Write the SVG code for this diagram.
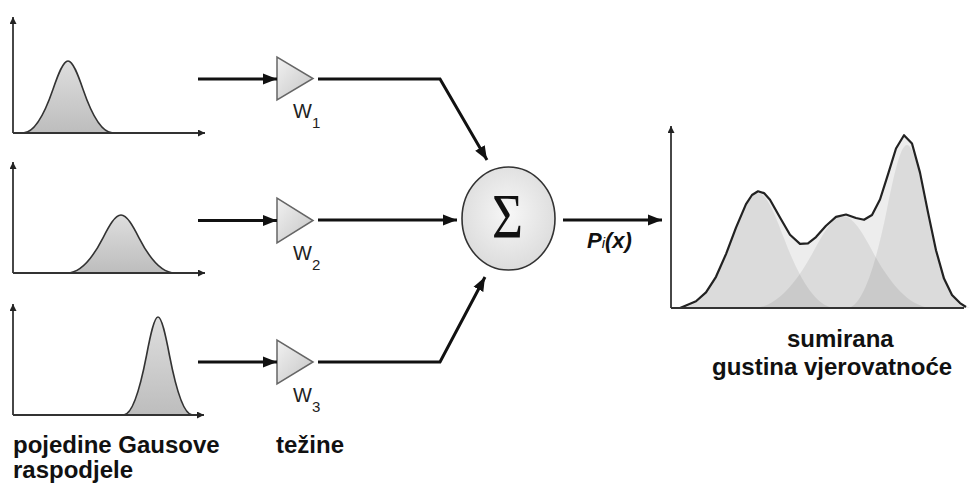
<svg xmlns="http://www.w3.org/2000/svg" width="971" height="487" viewBox="0 0 971 487">
<style>
.axis{stroke:#333;stroke-width:1.8;fill:none}
.gauss{fill:url(#gfill);stroke:#333;stroke-width:1.6}
.conn{stroke:#111;stroke-width:3;fill:none}
.tri{fill:url(#tfill);stroke:#666;stroke-width:1.5}
.lbl{font-family:"Liberation Sans",Arial,sans-serif;font-weight:bold;font-size:24px;fill:#111}
.w{font-family:"Liberation Sans",Arial,sans-serif;font-size:20px;fill:#222}
.comp{fill:#000;fill-opacity:0.075;stroke:none}
</style>
<defs>
<linearGradient id="gfill" x1="0" y1="0" x2="0" y2="1">
<stop offset="0" stop-color="#dedede"/><stop offset="1" stop-color="#bdbdbd"/>
</linearGradient>
<linearGradient id="tfill" x1="0" y1="0" x2="1" y2="1">
<stop offset="0" stop-color="#f2f2f2"/><stop offset="1" stop-color="#c4c4c4"/>
</linearGradient>
<radialGradient id="cfill" cx="0.5" cy="0.45" r="0.55">
<stop offset="0" stop-color="#f7f7f7"/><stop offset="1" stop-color="#dcdcdc"/>
</radialGradient>
<marker id="arr" markerUnits="userSpaceOnUse" markerWidth="15" markerHeight="12" refX="14" refY="6" orient="auto">
<path d="M0,0.5 L14,6 L0,11.5 z" fill="#111"/>
</marker>
<marker id="ax" markerUnits="userSpaceOnUse" markerWidth="8" markerHeight="7" refX="7" refY="3.5" orient="auto">
<path d="M0,0 L7,3.5 L0,7 z" fill="#222"/>
</marker>
</defs>
<rect width="971" height="487" fill="#fff"/>

<g id="panel1">
<path class="gauss" d="M23,133 C33,133 43,118.5 53,89.3 C58,74.8 63,61 68,61 C73,61 78,74.8 83,89.3 C93,118.5 103,133 113,133 Z"/>
<path class="axis" d="M13,133 V17" marker-end="url(#ax)"/>
<path class="axis" d="M13,133 H205" marker-end="url(#ax)"/>
</g>
<g id="panel2">
<path class="gauss" d="M67,273 C79,273 91,261.3 103,237.8 C109,226.1 115,215 121,215 C127,215 133,226.1 139,237.8 C151,261.3 163,273 175,273 Z"/>
<path class="axis" d="M13,273 V162" marker-end="url(#ax)"/>
<path class="axis" d="M13,273 H205" marker-end="url(#ax)"/>
</g>
<g id="panel3">
<path class="gauss" d="M123.5,415 C131.2,415 138.8,395.2 146.5,355.5 C150.3,335.7 154.2,317 158,317 C161.8,317 165.7,335.7 169.5,355.5 C177.2,395.2 184.8,415 192.5,415 Z"/>
<path class="axis" d="M13,415 V304" marker-end="url(#ax)"/>
<path class="axis" d="M13,415 H204" marker-end="url(#ax)"/>
</g>

<g id="weight1">
<polygon class="tri" points="277,57 277,100 313,78.5"/>
<text class="w" x="293" y="118">W<tspan font-size="15" dy="10">1</tspan></text>
</g>
<g id="weight2">
<polygon class="tri" points="277,198 277,243 313,220.5"/>
<text class="w" x="293" y="260">W<tspan font-size="15" dy="10">2</tspan></text>
</g>
<g id="weight3">
<polygon class="tri" points="277,340 277,384 313,362"/>
<text class="w" x="293" y="402">W<tspan font-size="15" dy="10">3</tspan></text>
</g>

<g id="sum">
<ellipse cx="508.5" cy="218.5" rx="46.5" ry="51.5" fill="url(#cfill)" stroke="#333" stroke-width="1.6"/>
<text x="492" y="238" font-family="'Liberation Serif','Times New Roman',serif" font-size="64" fill="#111" textLength="31" lengthAdjust="spacingAndGlyphs">Σ</text>
</g>

<g id="connectors">
<path class="conn" d="M198,79 H277" marker-end="url(#arr)"/>
<path class="conn" d="M198,220.5 H277" marker-end="url(#arr)"/>
<path class="conn" d="M198,362 H277" marker-end="url(#arr)"/>
<path class="conn" d="M318,79 H440 L487,160" marker-end="url(#arr)"/>
<path class="conn" d="M318,220 H457" marker-end="url(#arr)"/>
<path class="conn" d="M318,362 H440 L485,277" marker-end="url(#arr)"/>
<path class="conn" d="M563,220 H662" marker-end="url(#arr)"/>
</g>
<text id="pix" x="587" y="248" font-family="'Liberation Sans',Arial,sans-serif" font-weight="bold" font-style="italic" font-size="22" fill="#111">P<tspan font-size="15" font-weight="normal">i</tspan>(x)</text>

<g id="output">
<path d="M676,308 L686,305.5 696,301.3 706,292.4 716,276.8 726,254.1 736,227.6 746,204.1 752,195 758,191.3 764,193.1 770,199.8 780,217.5 790,234.8 800,243.9 808,243.3 816,237.1 826,225.8 836,216.9 846,214.5 856,218 864,219.8 872,215 880,199.5 888,174.3 896,148.5 904,135.2 912,143.5 920,172.6 928,212.4 936,250.2 944,278.6 952,295 960,303.1 966,306 970,308 Z" fill="#ededed" stroke="none"/>
<path class="comp" d="M680,308 C697.4,308 714.6,284.8 732,238.2 C740.7,214.9 749.3,193 758,193 C766.7,193 775.3,214.9 784,238.2 C801.4,284.8 818.6,308 836,308 Z"/>
<path class="comp" d="M753,308 C773,308 793,289.4 813,252.2 C823,233.6 833,216 843,216 C853,216 863,233.6 873,252.2 C893,289.4 913,308 933,308 Z"/>
<path class="comp" d="M847,308 C860.3,308 873.7,275.1 887,209.1 C893.7,176.1 900.3,145 907,145 C913.7,145 920.3,176.1 927,209.1 C940.3,275.1 953.7,308 967,308 Z"/>
<polyline points="680,308 686,305.5 696,301.3 706,292.4 716,276.8 726,254.1 736,227.6 746,204.1 752,195 758,191.3 764,193.1 770,199.8 780,217.5 790,234.8 800,243.9 808,243.3 816,237.1 826,225.8 836,216.9 846,214.5 856,218 864,219.8 872,215 880,199.5 888,174.3 896,148.5 904,135.2 912,143.5 920,172.6 928,212.4 936,250.2 944,278.6 952,295 960,303.1 966,307" fill="none" stroke="#222" stroke-width="2.2" stroke-linejoin="round"/>
<path class="axis" d="M671,308 V126" marker-end="url(#ax)"/>
<path class="axis" d="M671,308 H964"/>
</g>

<g id="labels">
<text class="lbl" x="13" y="453">pojedine Gausove</text>
<text class="lbl" x="13" y="478">raspodjele</text>
<text class="lbl" x="276" y="453">težine</text>
<text class="lbl" x="787" y="347">sumirana</text>
<text class="lbl" x="712" y="375">gustina vjerovatnoće</text>
</g>
</svg>
